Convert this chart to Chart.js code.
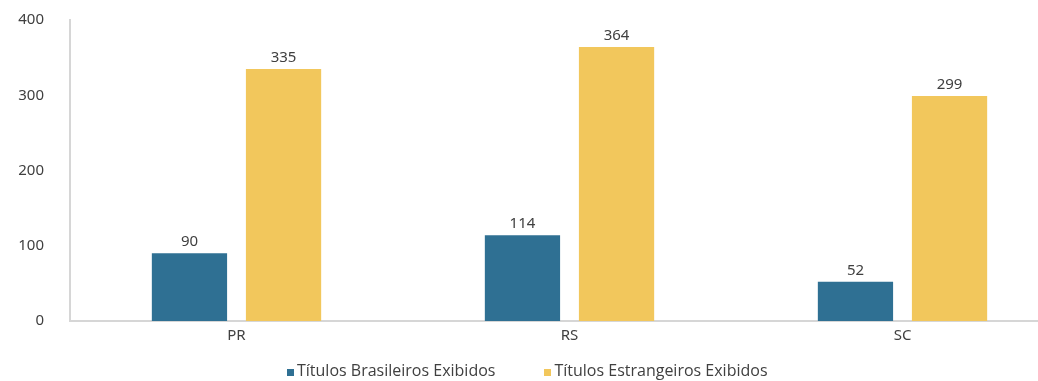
<!DOCTYPE html>
<html>
<head>
<meta charset="utf-8">
<script src="https://cdn.jsdelivr.net/npm/chart.js@4"></script>
<style>
    html, body { margin: 0; padding: 0; background: #fff; overflow: hidden; }
    #wrap { position: relative; width: 1070px; height: 381px; }
    #legend { position: absolute; top: 359px; left: 287px; display: flex; font-family: "Open Sans", sans-serif; font-size: 16px; color: #404040; }
    #legend .item { display: flex; align-items: baseline; margin-right: 49px; white-space: nowrap; }
    #legend .box { display: inline-block; width: 7px; height: 7px; margin-right: 3px; }
</style>
</head>
<body>
<div id="wrap">
    <canvas id="chart"></canvas>
    <div id="legend"></div>
</div>
<script>
const categories = ["PR", "RS", "SC"];
const brasileiros = [90, 114, 52];
const estrangeiros = [335, 364, 299];
const seriesLabels = ["Títulos Brasileiros Exibidos", "Títulos Estrangeiros Exibidos"];
const yTicks = [0, 100, 200, 300, 400];

const colors = ["#2f7093", "#f2c75c"];
const textColor = "#404040";
const tickFont = { family: "Noto Sans", size: 15 };

// valores em cima de cada barra
const valueLabels = {
    id: "valueLabels",
    afterDatasetsDraw(chart) {
        const ctx = chart.ctx;
        ctx.save();
        ctx.fillStyle = textColor;
        ctx.font = "15px 'Noto Sans'";
        ctx.textAlign = "center";
        ctx.textBaseline = "bottom";
        chart.data.datasets.forEach((ds, i) => {
            chart.getDatasetMeta(i).data.forEach((bar, j) => {
                ctx.fillText(ds.data[j], bar.x, bar.y - 4);
            });
        });
        ctx.restore();
    }
};

const chart = new Chart(document.getElementById("chart"), {
    type: "bar",
    data: {
        labels: categories,
        datasets: [
            { label: seriesLabels[0], data: brasileiros, backgroundColor: colors[0] },
            { label: seriesLabels[1], data: estrangeiros, backgroundColor: colors[1] }
        ]
    },
    options: {
        responsive: true,
        maintainAspectRatio: false,
        animation: false,
        categoryPercentage: 0.565,
        barPercentage: 0.8,
        layout: { padding: { top: 20, right: 1, bottom: 40, left: 0 } },
        plugins: {
            legend: { display: false },
            tooltip: { enabled: false }
        },
        scales: {
            x: {
                grid: { display: false, drawTicks: false },
                border: { color: "#d6d6d6", width: 2 },
                ticks: { color: textColor, font: tickFont, padding: 6 },
                afterFit(scale) { scale.height = 20; }
            },
            y: {
                min: 0,
                max: 400,
                afterBuildTicks(scale) { scale.ticks = yTicks.map(v => ({ value: v })); },
                grid: { display: false, drawTicks: true, tickLength: 26 },
                border: { color: "#d6d6d6", width: 2 },
                ticks: { color: textColor, font: tickFont, padding: 0 },
                afterFit(scale) { scale.width = 70; }
            }
        }
    },
    plugins: [valueLabels]
});

// legenda em HTML
const legend = document.getElementById("legend");
chart.data.datasets.forEach(ds => {
    const item = document.createElement("span");
    item.className = "item";
    const box = document.createElement("span");
    box.className = "box";
    box.style.background = ds.backgroundColor;
    item.appendChild(box);
    item.appendChild(document.createTextNode(ds.label));
    legend.appendChild(item);
});
</script>
</body>
</html>
